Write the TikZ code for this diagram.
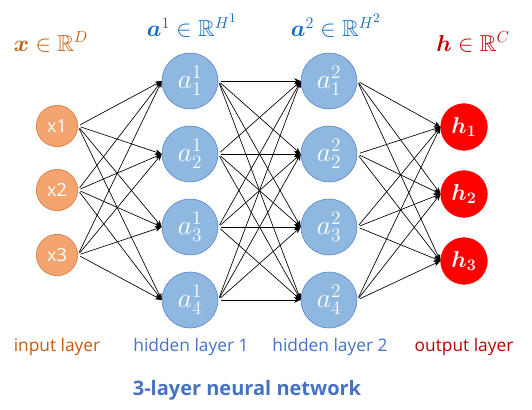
\documentclass[tikz,border=0pt]{standalone}
\usepackage[no-math]{fontspec}
\setmainfont{Open Sans}
\usepackage{amsmath,amssymb,bm}
\usetikzlibrary{arrows.meta}

\definecolor{inorange}{HTML}{F4A46E}
\definecolor{inedge}{HTML}{D2713A}
\definecolor{inlabel}{HTML}{C55A11}
\definecolor{hidfill}{HTML}{8FB8E0}
\definecolor{hidedge}{HTML}{4F7FC8}
\definecolor{hidlabel}{HTML}{4472C4}
\definecolor{toplabel}{HTML}{0F6AC0}
\definecolor{outlabel}{HTML}{C00000}

\tikzset{
	innode/.style={circle, draw=inedge, fill=inorange, minimum size=31pt, inner sep=0pt, text=white, font=\fontsize{13.5}{16}\selectfont},
	hidnode/.style={circle, draw=hidedge, fill=hidfill, minimum size=42pt, inner sep=0pt, text=white, font=\huge},
	outnode/.style={circle, draw=red, fill=red, minimum size=35pt, inner sep=0pt, text=white, font=\LARGE},
	link/.style={-{Stealth[length=5pt,width=4pt]}, line width=0.5pt, shorten <=2pt},
	layerlabel/.style={font=\fontsize{13}{15}\selectfont},
	spacelabel/.style={font=\LARGE},
}

\begin{document}
\begin{tikzpicture}[x=0.75pt, y=-0.75pt]
	\useasboundingbox (0,0) rectangle (532,410);

	% input layer
	\node[innode] (x1) at (57,126) {x1};
	\node[innode] (x2) at (57,190) {x2};
	\node[innode] (x3) at (57,255) {x3};

	% hidden layers
	\foreach \i/\y in {1/81, 2/154, 3/227, 4/300} {
		\node[hidnode] (a1\i) at (190,\y) {$a^1_\i$};
		\node[hidnode] (a2\i) at (329,\y) {$a^2_\i$};
	}

	% output layer
	\node[outnode] (h1) at (464,127) {$\bm{h_1}$};
	\node[outnode] (h2) at (464,194) {$\bm{h_2}$};
	\node[outnode] (h3) at (464,261) {$\bm{h_3}$};

	% connections
	\foreach \s in {1,2,3}
		\foreach \t in {1,2,3,4}
			\draw[link] (x\s.east) -- (a1\t.west);
	\foreach \s in {1,2,3,4}
		\foreach \t in {1,2,3,4}
			\draw[link] (a1\s.east) -- (a2\t.west);
	\foreach \s in {1,2,3,4}
		\foreach \t in {1,2,3}
			\draw[link] (a2\s.east) -- (h\t.west);

	% spaces
	\node[spacelabel, text=inlabel] (xspace) at (51,42) {$\bm{x}\in\mathbb{R}^D$};
	\node[spacelabel, text=toplabel] (a1space) at (192,26) {$\bm{a}^1\in\mathbb{R}^{H^1}$};
	\node[spacelabel, text=toplabel] (a2space) at (336,26) {$\bm{a}^2\in\mathbb{R}^{H^2}$};
	\node[spacelabel, text=outlabel] (hspace) at (473,42) {$\bm{h}\in\mathbb{R}^C$};

	% layer names
	\node[layerlabel, text=inlabel] (inname) at (57,347) {input layer};
	\node[layerlabel, text=hidlabel] (h1name) at (191,347) {hidden layer 1};
	\node[layerlabel, text=hidlabel] (h2name) at (330,347) {hidden layer 2};
	\node[layerlabel, text=outlabel] (outname) at (464,347) {output layer};

	\node[text=hidlabel, font=\fontsize{15}{18}\selectfont\bfseries] (title) at (247,390) {3-layer neural network};
\end{tikzpicture}
\end{document}
